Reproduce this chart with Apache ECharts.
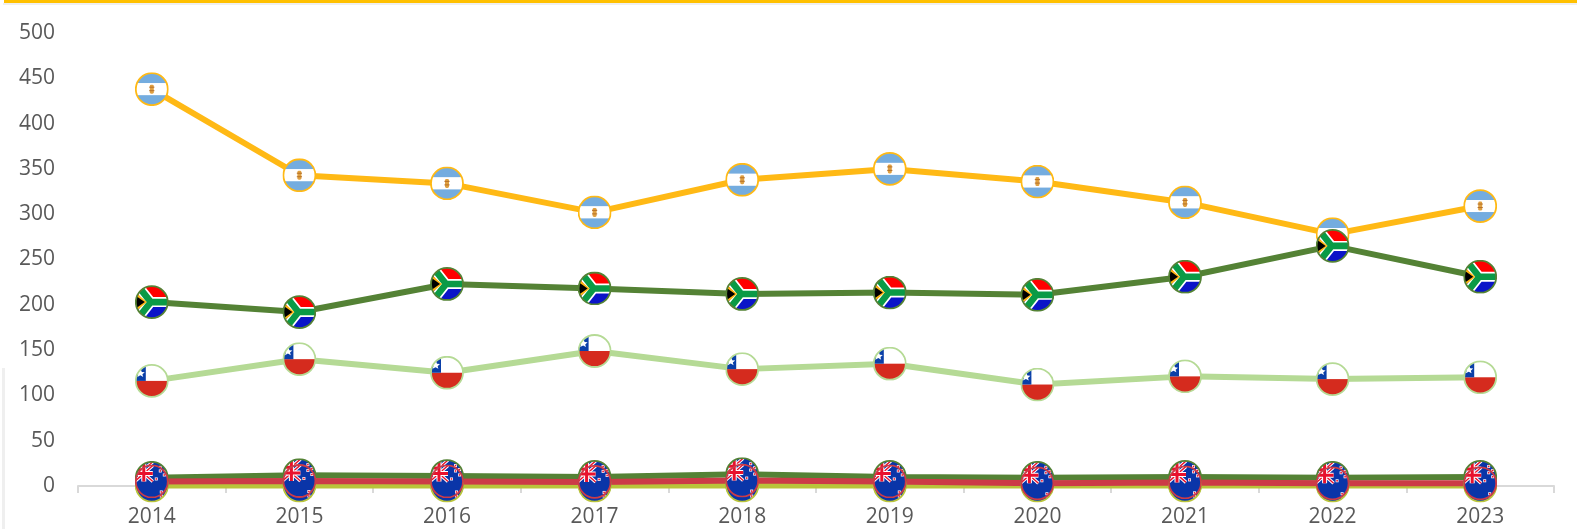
<!DOCTYPE html>
<html>
<head>
<meta charset="utf-8">
<style>html,body{margin:0;padding:0;background:#fff}#c{width:1577px;height:529px}</style>
<script src="https://cdn.jsdelivr.net/npm/echarts@6/dist/echarts.min.js"></script>
</head>
<body>
<div id="c"></div>
<script>
const years = ['2014','2015','2016','2017','2018','2019','2020','2021','2022','2023'];
const yTicks = [0,50,100,150,200,250,300,350,400,450,500];
const argentina = [438,343,334,302,338,350,336,313,278,309];
const southAfrica = [203,192,223,218,212,213.5,211,231,265,231];
const chile = [116,140,125,149,129,135,112,121,118,120];
const nzGreen = [9,12,11,10,13,10,9,10,9,10];
const nzMid = [2,2,2,2,2,2,2,2,2,2];
const nzLime = [0.5,0.5,0.5,0.5,0.5,0.5,0.5,0.5,0.5,0.5];
const nzRed = [5,5.5,5,4.5,6,5,3,4,3,3];

function wrap(inner, ring){
  const svg = '<svg xmlns="http://www.w3.org/2000/svg" width="68" height="68" viewBox="0 0 34 34">'
    + '<defs><clipPath id="k"><circle cx="17" cy="17" r="16"/></clipPath></defs>'
    + '<circle cx="17" cy="17" r="16" fill="#fff"/>'
    + '<g clip-path="url(#k)">' + inner + '</g>'
    + '<circle cx="17" cy="17" r="16" fill="none" stroke="' + ring + '" stroke-width="1.8"/></svg>';
  return 'image://data:image/svg+xml;charset=utf-8,' + encodeURIComponent(svg);
}
const flagAR = r => wrap(
  '<rect width="34" height="11" fill="#74ACDF"/><rect y="11" width="34" height="12" fill="#fff"/><rect y="23" width="34" height="11" fill="#74ACDF"/>'
  + '<rect x="15" y="12.5" width="4" height="9" rx="1.4" fill="#E0A040"/><rect x="14.4" y="14.5" width="5.2" height="1" fill="#B5702A"/><rect x="14.4" y="18" width="5.2" height="1" fill="#B5702A"/>', r);
const flagZA = r => wrap(
  '<rect width="34" height="17" fill="#F00"/><rect y="17" width="34" height="17" fill="#0A14C8"/>'
  + '<path d="M1 -2 L16 17 L1 36 M16 17 H36" fill="none" stroke="#fff" stroke-width="10"/>'
  + '<path d="M1 -2 L16 17 L1 36 M16 17 H36" fill="none" stroke="#0A9A46" stroke-width="6.6"/>'
  + '<path d="M-2 5 L12 17 L-2 29 Z" fill="#FFB612"/>'
  + '<path d="M-2 8.5 L10 17 L-2 25.5 Z" fill="#000"/>', r);
const flagCL = r => wrap(
  '<rect width="34" height="17" fill="#fff"/><rect y="17" width="34" height="17" fill="#D52B1E"/><rect width="11" height="17" fill="#0A3FA8"/>'
  + '<path d="M5.5 4 L7 8 L10 8.3 L7.6 10.4 L8.4 13 L5.5 11.4 L2.6 13 L3.4 10.4 L1 8.3 L4 8 Z" fill="#fff"/>', r);
const flagNZ = r => wrap(
  '<rect width="34" height="34" fill="#0A35A8"/>'
  + '<g transform="translate(0 1)">'
  + '<path d="M0 0 L18 16 M18 0 L0 16" stroke="#fff" stroke-width="3.4"/>'
  + '<path d="M0 0 L18 16 M18 0 L0 16" stroke="#E8112D" stroke-width="1.4"/>'
  + '<path d="M9 0 V16 M0 8 H18" stroke="#fff" stroke-width="5"/>'
  + '<path d="M9 0 V16 M0 8 H18" stroke="#E8112D" stroke-width="3"/></g>'
  + '<g fill="#fff"><rect x="24" y="5" width="3" height="3"/><rect x="20" y="13" width="3" height="3"/><rect x="25" y="26" width="3" height="3"/><rect x="28" y="9" width="3" height="3"/></g>'
  + '<g fill="#E8112D"><rect x="24.7" y="5.7" width="1.6" height="1.6"/><rect x="20.7" y="13.7" width="1.6" height="1.6"/><rect x="25.7" y="26.7" width="1.6" height="1.6"/><rect x="28.7" y="9.7" width="1.6" height="1.6"/></g>', r);

function line(name, data, color, flag, width){
  return {
    name, type:'line', data, symbol: flag(color), symbolSize: 34, showAllSymbol: true,
    lineStyle:{color, width: width || 6, cap:'butt'}, itemStyle:{color}, smooth:false, silent:true, clip:false
  };
}
const chart = echarts.init(document.getElementById('c'), null, {renderer:'canvas'});
chart.setOption({
  animation:false,
  backgroundColor:'#fff',
  grid:{left:78, right:23, top:33, bottom:43},
  graphic:[
    {type:'rect', shape:{x:3,y:3,width:1574,height:2}, style:{fill:'#EFEFEF'}},
    {type:'rect', shape:{x:4,y:0,width:1573,height:3}, style:{fill:'#FFC000'}},
    {type:'rect', shape:{x:2,y:368,width:3,height:161}, style:{fill:'#EFEFEF'}}
  ],
  xAxis:{
    type:'category', data:years, boundaryGap:true,
    axisLine:{lineStyle:{color:'#D9D9D9', width:2}},
    axisTick:{show:true, alignWithLabel:false, length:7, lineStyle:{color:'#D9D9D9', width:2}},
    axisLabel:{color:'#595959', fontFamily:'Open Sans', fontSize:21, margin:21, interval:0}
  },
  yAxis:{
    type:'value', min:yTicks[0], max:yTicks[yTicks.length-1], interval:yTicks[1]-yTicks[0],
    axisLine:{show:false}, axisTick:{show:false}, splitLine:{show:false},
    axisLabel:{color:'#595959', fontFamily:'Open Sans', fontSize:21, margin:23, padding:[2,0,0,0]}
  },
  series:[
    line('Argentina', argentina, '#FFB915', flagAR),
    line('South Africa', southAfrica, '#548235', flagZA),
    line('Chile', chile, '#B5DA95', flagCL),
    line('NZ mid', nzMid, '#3DA64A', flagNZ, 2),
    line('NZ lime', nzLime, '#B9C43A', flagNZ),
    line('NZ green', nzGreen, '#548235', flagNZ),
    line('NZ red', nzRed, '#CC3B47', flagNZ)
  ]
});
</script>
</body>
</html>
